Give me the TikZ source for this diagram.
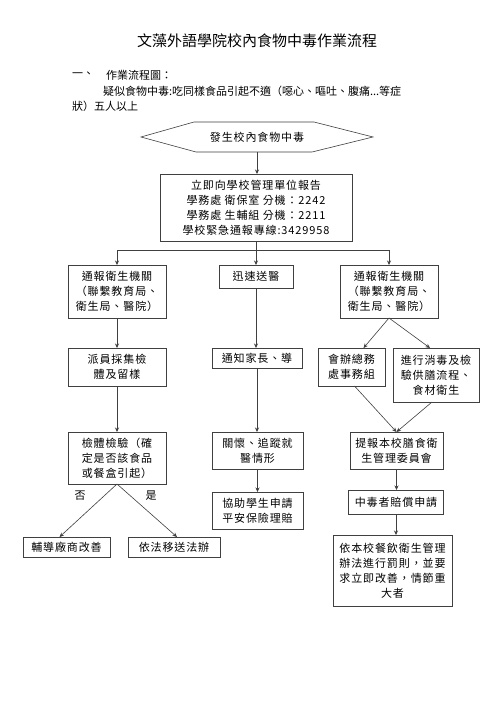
\documentclass[tikz,border=0pt]{standalone}
\usepackage{fontspec}
\newfontfamily\cjk{Noto Sans CJK TC}
\newfontfamily\cjkbox[LetterSpace=8]{Noto Sans CJK TC}
\usetikzlibrary{arrows.meta}
\begin{document}
\begin{tikzpicture}[x=1pt,y=-1pt,
  box/.style={draw=black!75,line width=0.6pt,inner sep=1pt,outer sep=0pt,align=center,font=\cjkbox\fontsize{11}{15}\selectfont},
  arr/.style={draw=black!75,line width=0.6pt,-{Stealth[length=4.5pt,width=4pt]}},
  ln/.style={draw=black!75,line width=0.6pt},
  txt/.style={font=\cjk\fontsize{11}{15}\selectfont,inner sep=0pt,outer sep=0pt}]
\useasboundingbox[fill=white] (0,0) rectangle (500,708);

% title and intro
\node[txt,font=\cjk\fontsize{15}{18}\selectfont] (title) at (257,41) {文藻外語學院校內食物中毒作業流程};
\node[txt,anchor=west] (t1a) at (72,75) {一、};
\node[txt,anchor=west] (t1b) at (106,75) {作業流程圖：};
\node[txt,anchor=west] (t2) at (103,91) {疑似食物中毒:吃同樣食品引起不適（噁心、嘔吐、腹痛...等症};
\node[txt,anchor=west] (t3) at (72,106) {狀）五人以上};

% hexagon
\node[txt,font=\cjkbox\fontsize{11}{15}\selectfont,minimum width=232pt,minimum height=30pt] (hex) at (257,137) {發生校內食物中毒};
\draw[ln] (hex.west) -- ([xshift=53pt]hex.north west) -- ([xshift=-59pt]hex.north east) -- (hex.east)
  -- ([xshift=-61pt]hex.south east) -- ([xshift=55pt]hex.south west) -- cycle;

\node[box,minimum width=192pt,minimum height=67pt] (box2) at (256,207.5)
  {立即向學校管理單位報告\\學務處 衛保室 分機：2242\\學務處 生輔組 分機：2211\\學校緊急通報專線:3429958};

% row 1
\node[box,minimum width=98pt,minimum height=53pt] (L1) at (117,291.5) {通報衛生機關\\（聯繫教育局、\\衛生局、醫院）};
\node[box,minimum width=74pt,minimum height=23pt] (M1) at (256,276.5) {迅速送醫};
\node[box,minimum width=98pt,minimum height=53pt] (R1) at (389,291.5) {通報衛生機關\\（聯繫教育局、\\衛生局、醫院）};

% row 2
\node[box,minimum width=98pt,minimum height=38pt] (L2) at (117,367) {派員採集檢\\體及留樣};
\node[box,minimum width=90pt,minimum height=20pt] (M2) at (257,358) {通知家長、導};
\node[box,minimum width=67pt,minimum height=38pt] (R2a) at (351.5,367) {會辦總務\\處事務組};
\node[box,minimum width=86pt,minimum height=54pt] (R2b) at (436,375) {進行消毒及檢\\驗供膳流程、\\食材衛生};

% row 3
\node[box,minimum width=98pt,minimum height=52pt] (L3) at (117,458) {檢體檢驗（確\\定是否該食品\\或餐盒引起）};
\node[box,minimum width=91pt,minimum height=37pt] (M3) at (257.5,450.5) {關懷、追蹤就\\醫情形};
\node[box,minimum width=93pt,minimum height=37pt] (R3) at (396.5,450.5) {提報本校膳食衛\\生管理委員會};

% row 4
\node[box,minimum width=91pt,minimum height=37pt] (M4) at (257.5,510.5) {協助學生申請\\平安保險理賠};
\node[box,minimum width=95pt,minimum height=24pt] (R4) at (396,502) {中毒者賠償申請};

% row 5
\node[box,minimum width=87pt,minimum height=20pt] (LL) at (66.5,547) {輔導廠商改善};
\node[box,minimum width=92pt,minimum height=20pt] (LR) at (174,547) {依法移送法辦};
\node[box,minimum width=119pt,minimum height=71pt] (R5) at (392.5,570.5) {依本校餐飲衛生管理\\辦法進行罰則，並要\\求立即改善，情節重\\大者};

\node[txt] (no) at (80,496) {否};
\node[txt] (yes) at (151,496) {是};

% connectors
\draw[arr] (hex.south) -- (hex.south |- box2.north);
\coordinate (bus) at (256,250);
\draw[ln] (box2.south) -- (bus);
\draw[ln] (L1.north |- bus) -- (R1.north |- bus);
\draw[arr] (L1.north |- bus) -- (L1.north);
\draw[arr] (M1.north |- bus) -- (M1.north);
\draw[arr] (R1.north |- bus) -- (R1.north);

\draw[arr] (L1.south) -- (L2.north);
\draw[arr] (L2.south) -- (L3.north);
\draw[arr] (M1.south) -- (M1.south |- M2.north);
\draw[arr] (M2.south) -- (M2.south |- M3.north);
\draw[arr] (M3.south) -- (M3.south |- M4.north);

\draw[arr] (R1.south) -- ([xshift=12pt]R2a.north);
\draw[arr] (R1.south) -- ([xshift=-6pt]R2b.north);
\draw[arr] ([xshift=3pt]R2a.south) -- (R3.north);
\draw[arr] ([xshift=-4pt]R2b.south) -- (R3.north);
\draw[arr] (R3.south) -- (R3.south |- R4.north);
\draw[arr] (R4.south) -- (R4.south |- R5.north);

\draw[arr] (L3.south) -- ([xshift=-7pt]LL.north);
\draw[arr] (L3.south) -- ([xshift=3pt]LR.north);
\end{tikzpicture}
\end{document}
